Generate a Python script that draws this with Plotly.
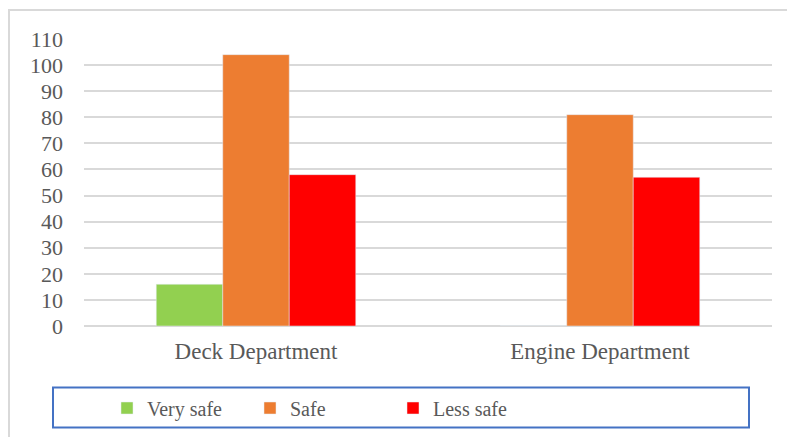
import plotly.graph_objects as go

departments = ["Deck Department", "Engine Department"]
very_safe = [16, 0]
safe = [104, 81]
less_safe = [58, 57]
y_ticks = [0, 10, 20, 30, 40, 50, 60, 70, 80, 90, 100, 110]

FONT = "Liberation Serif"
TEXT = "#595959"
WIDTH, HEIGHT = 787, 437

fig = go.Figure()
fig.add_trace(go.Bar(x=departments, y=very_safe, name="Very safe", marker_color="#92D050"))
fig.add_trace(go.Bar(x=departments, y=safe, name="Safe", marker_color="#ED7D31"))
fig.add_trace(go.Bar(x=departments, y=less_safe, name="Less safe", marker_color="#FF0000"))

# plot area spans 84..772 px horizontally, 39..326 px vertically
L, R, T, B = 84, 15, 39, 111
W, H = WIDTH - L - R, HEIGHT - T - B


def px_x(p):
    return (p - L) / W


def px_y(p):
    return (HEIGHT - B - p) / H


fig.update_layout(
    width=WIDTH,
    height=HEIGHT,
    margin=dict(l=L, r=R, t=T, b=B, autoexpand=False),
    paper_bgcolor="white",
    plot_bgcolor="white",
    barmode="group",
    bargap=0.42,
    bargroupgap=0,
    font=dict(family=FONT, color=TEXT),
    xaxis=dict(
        showgrid=False,
        showline=False,
        ticks="",
        tickfont=dict(size=23, color=TEXT, family=FONT),
        ticklabelstandoff=9,
    ),
    yaxis=dict(
        range=[0, 110],
        tickvals=y_ticks,
        showgrid=True,
        gridcolor="#d9d9d9",
        gridwidth=1.5,
        zeroline=True,
        zerolinecolor="#d9d9d9",
        zerolinewidth=1.5,
        ticks="",
        tickfont=dict(size=22, color=TEXT, family=FONT),
        ticklabelstandoff=20,
    ),
    showlegend=True,
    legend=dict(
        orientation="h",
        xref="container",
        yref="container",
        x=107 / WIDTH,
        xanchor="left",
        y=(HEIGHT - 408) / HEIGHT,
        yanchor="middle",
        bgcolor="rgba(0,0,0,0)",
        font=dict(size=20, color=TEXT, family=FONT),
        entrywidth=98,
        entrywidthmode="pixels",
        traceorder="normal",
    ),
    shapes=[
        # outer chart border
        dict(type="rect", xref="paper", yref="paper",
             x0=px_x(9), x1=px_x(790), y0=px_y(445), y1=px_y(10),
             line=dict(color="#d9d9d9", width=2), fillcolor="rgba(0,0,0,0)", layer="below"),
        # legend frame
        dict(type="rect", xref="paper", yref="paper",
             x0=px_x(53), x1=px_x(749), y0=px_y(427.5), y1=px_y(387.5),
             line=dict(color="#4472C4", width=2), fillcolor="rgba(0,0,0,0)"),
    ],
)

fig.write_html("out.html")
